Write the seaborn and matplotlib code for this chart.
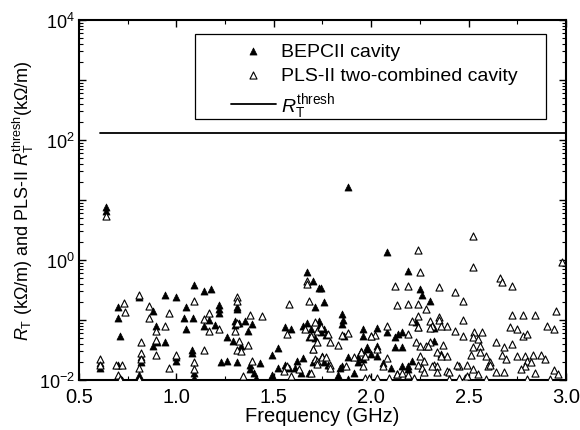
import numpy as np
import pandas as pd
import matplotlib
matplotlib.use("Agg")
import matplotlib.pyplot as plt
import matplotlib.ticker as mticker
from matplotlib.patches import Rectangle
import seaborn as sns

# BEPCII cavity (filled triangles): frequency (GHz), R_T (kOhm/m)
bep_freq = [0.61, 0.61, 0.64, 0.64, 0.70, 0.71, 0.70, 0.70, 0.71, 0.72,
            0.81, 0.88, 0.895, 0.90, 0.88, 0.82, 0.81, 0.82,
            0.94, 1.00, 1.09, 1.14, 1.18, 1.05, 1.04, 1.085, 1.17, 1.20, 1.14, 1.05,
            0.94, 1.00, 1.00, 1.08, 1.08, 1.09, 1.09, 1.23, 1.26,
            1.22, 1.22, 1.22, 1.31, 1.31, 1.30, 1.30, 1.26, 1.29, 1.31,
            1.35, 1.39, 1.32, 1.37, 1.33, 1.38, 1.38, 1.43, 1.40, 1.41, 1.49, 1.49,
            1.52, 1.52, 1.56, 1.58, 1.61, 1.62, 1.65, 1.56, 1.59,
            1.67, 1.70, 1.71, 1.73, 1.65, 1.67, 1.69, 1.68, 1.71, 1.70, 1.70, 1.68, 1.64,
            1.74, 1.76, 1.85, 1.855, 1.85, 1.86, 1.88,
            1.73, 1.73, 1.76, 1.74, 1.77, 1.75, 1.76, 1.78, 1.85, 1.84, 1.83, 1.88, 1.91,
            1.88, 1.93, 1.93, 1.96, 2.06, 2.00, 2.03, 1.98, 1.98, 1.95, 2.03,
            1.96, 2.03, 2.08, 1.96, 2.00, 2.12, 2.10, 2.08,
            2.19, 2.25, 2.26, 2.30, 2.16, 2.14, 2.23, 2.24, 2.32, 2.32, 2.12, 2.16,
            2.21, 2.16, 2.19, 2.19, 2.36]
bep_rt = [0.019, 0.016, 7.7, 6.6, 0.018, 0.011, 0.165, 0.108, 0.054, 0.010,
          0.24, 0.14, 0.079, 0.043, 0.037, 0.020, 0.012, 0.024,
          0.26, 0.24, 0.38, 0.31, 0.33, 0.165, 0.11, 0.11, 0.10, 0.083, 0.079, 0.07,
          0.043, 0.021, 0.024, 0.032, 0.028, 0.013, 0.011, 0.020, 0.021,
          0.18, 0.15, 0.13, 0.165, 0.15, 0.096, 0.083, 0.052, 0.045, 0.020,
          0.096, 0.086, 0.09, 0.066, 0.037, 0.018, 0.015, 0.019, 0.013, 0.011, 0.012, 0.026,
          0.034, 0.016, 0.018, 0.016, 0.016, 0.021, 0.023, 0.076, 0.071,
          0.63, 0.45, 0.165, 0.34, 0.08, 0.09, 0.071, 0.052, 0.05, 0.033, 0.020, 0.013, 0.013,
          0.34, 0.20, 0.126, 0.10, 0.086, 0.055, 16.4,
          0.096, 0.076, 0.071, 0.063, 0.056, 0.025, 0.020, 0.018, 0.017, 0.016, 0.012, 0.0105, 0.013,
          0.024, 0.024, 0.020, 0.022, 0.019, 0.027, 0.025, 0.035, 0.033, 0.030, 0.037,
          0.071, 0.073, 0.063, 0.055, 0.055, 0.052, 0.016, 1.36,
          0.65, 0.33, 0.26, 0.21, 0.063, 0.058, 0.093, 0.076, 0.074, 0.045, 0.035, 0.035,
          0.021, 0.017, 0.017, 0.015, 0.027]

# PLS-II two-combined cavity (open triangles)
pls_freq = [0.61, 0.61, 0.64, 0.69, 0.72, 0.70, 0.73, 0.735,
            0.81, 0.86, 0.86, 0.895, 0.82, 0.895, 0.82, 0.82, 0.81, 0.71, 0.81,
            0.96, 0.94, 1.09, 1.14, 1.17, 1.17, 1.22, 1.00, 1.14, 0.96, 1.09, 1.09, 0.895,
            1.31, 1.31, 1.31, 1.30, 1.31, 1.38, 1.44, 1.37, 1.32, 1.33, 1.39, 1.34,
            1.57, 1.55, 1.63, 1.69, 1.59, 1.57, 1.58,
            1.67, 1.67, 1.68, 1.66, 1.69, 1.71, 1.72, 1.70, 1.71, 1.72,
            1.74, 1.78, 1.72, 1.79, 1.83, 1.85, 1.88, 2.08, 2.02, 2.00,
            1.95, 1.97, 1.96, 1.91, 2.06, 2.08, 2.03, 1.75, 1.77, 1.79, 1.79, 1.87,
            1.97, 1.99, 2.03, 2.09, 2.12, 2.13, 2.13, 1.72,
            2.52, 2.52, 2.24, 2.25, 2.19, 2.35, 2.43, 2.47, 2.19, 2.24, 2.28,
            2.24, 2.21, 2.24, 2.30, 2.31, 2.35, 2.35, 2.39, 2.36, 2.30,
            2.47, 2.43, 2.19, 2.53, 2.52, 2.47,
            2.30, 2.28, 2.29, 2.23, 2.25, 2.37, 2.34, 2.39, 2.36, 2.52, 2.51, 2.49, 2.45,
            2.25, 2.27, 2.24, 2.26, 2.32, 2.34, 2.31, 2.34, 2.39, 2.40, 2.44,
            2.13, 2.16, 2.19, 2.22, 2.27, 2.40, 2.45, 2.48, 2.49, 2.52, 2.55,
            2.98, 2.66, 2.67, 2.72, 2.72, 2.78, 2.84, 2.95, 2.71, 2.75, 2.90, 2.94,
            2.78, 2.80, 2.57, 2.55, 2.64, 2.72,
            2.56, 2.56, 2.68, 2.67, 2.69, 2.59, 2.61, 2.60, 2.61,
            2.75, 2.79, 2.83, 2.87, 2.89, 2.80, 2.82, 2.79,
            2.64, 2.68, 2.77, 2.84, 2.94, 2.96, 2.59, 2.80, 2.92]
pls_rt = [0.022, 0.018, 5.4, 0.018, 0.018, 0.012, 0.19, 0.135,
          0.26, 0.17, 0.108, 0.066, 0.043, 0.026, 0.028, 0.022, 0.016, 0.0105, 0.0105,
          0.13, 0.079, 0.21, 0.104, 0.13, 0.066, 0.07, 0.026, 0.032, 0.016, 0.020, 0.015, 0.046,
          0.24, 0.21, 0.09, 0.065, 0.032, 0.12, 0.117, 0.038, 0.045, 0.030, 0.021, 0.0117,
          0.017, 0.014, 0.015, 0.013, 0.0117, 0.058, 0.185,
          0.45, 0.40, 0.21, 0.071, 0.055, 0.093, 0.066, 0.033, 0.022, 0.021,
          0.076, 0.058, 0.043, 0.043, 0.038, 0.056, 0.061, 0.08, 0.056, 0.055,
          0.029, 0.025, 0.017, 0.024, 0.017, 0.023, 0.033, 0.024, 0.024, 0.018, 0.016, 0.017,
          0.0108, 0.011, 0.011, 0.0108, 0.37, 0.18, 0.0126, 0.0185,
          2.5, 0.76, 1.47, 0.63, 0.37, 0.35, 0.29, 0.21, 0.185, 0.185, 0.15,
          0.117, 0.096, 0.076, 0.096, 0.08, 0.112, 0.10, 0.08, 0.08, 0.074,
          0.10, 0.066, 0.058, 0.063, 0.052, 0.055,
          0.043, 0.037, 0.037, 0.043, 0.037, 0.038, 0.029, 0.025, 0.025, 0.035, 0.026, 0.018, 0.017,
          0.025, 0.021, 0.018, 0.016, 0.018, 0.017, 0.017, 0.0136, 0.014, 0.0136, 0.018,
          0.0126, 0.013, 0.012, 0.011, 0.0136, 0.0104, 0.0108, 0.0108, 0.0117, 0.015, 0.0126,
          0.93, 0.50, 0.43, 0.37, 0.12, 0.12, 0.12, 0.14, 0.076, 0.072, 0.08, 0.07,
          0.054, 0.058, 0.063, 0.048, 0.043, 0.04,
          0.037, 0.029, 0.035, 0.026, 0.022, 0.025, 0.020, 0.017, 0.018,
          0.025, 0.025, 0.026, 0.026, 0.022, 0.021, 0.020, 0.017,
          0.0136, 0.0136, 0.015, 0.013, 0.0147, 0.0126, 0.0104, 0.0104, 0.0104]

# PLS-II threshold impedance
thresh_freq = [0.61, 3.0]
thresh_rt = [130, 130]

bep = pd.DataFrame({"freq": bep_freq, "rt": bep_rt})
pls = pd.DataFrame({"freq": pls_freq, "rt": pls_rt})
thr = pd.DataFrame({"freq": thresh_freq, "rt": thresh_rt})

sns.set_theme(style="ticks")
plt.rcParams['font.family'] = ['Liberation Sans', 'DejaVu Sans']
plt.rcParams['mathtext.fontset'] = 'custom'
plt.rcParams['mathtext.rm'] = 'Liberation Sans'
plt.rcParams['mathtext.it'] = 'Liberation Sans:italic'
plt.rcParams['text.color'] = 'black'
plt.rcParams['axes.labelcolor'] = 'black'
plt.rcParams['xtick.color'] = 'black'
plt.rcParams['ytick.color'] = 'black'

fig = plt.figure(figsize=(5.8, 4.31), dpi=100)
ax = fig.add_axes([0.136, 0.116, 0.840, 0.835])

sns.scatterplot(data=bep, x="freq", y="rt", ax=ax, marker="^", s=26,
                color="black", edgecolor="black", linewidth=0.5,
                label="BEPCII cavity", zorder=3)
sns.scatterplot(data=pls, x="freq", y="rt", ax=ax, marker="^", s=26,
                facecolor="white", edgecolor="black", linewidth=0.8,
                label="PLS-II two-combined cavity", zorder=3)
sns.lineplot(data=thr, x="freq", y="rt", ax=ax, color="black", linewidth=1.3,
             label=r"$R_\mathrm{T}^\mathrm{thresh}$")

ax.set_yscale("log")
ax.set_xlim(0.5, 3.0)
ax.set_ylim(1e-2, 1e4)
ax.xaxis.set_major_locator(mticker.MultipleLocator(0.5))
ax.xaxis.set_minor_locator(mticker.MultipleLocator(0.25))
ax.xaxis.set_major_formatter(mticker.FormatStrFormatter('%.1f'))
ax.yaxis.set_major_locator(mticker.LogLocator(base=10, numticks=10))
ax.yaxis.set_minor_locator(mticker.LogLocator(base=10, subs=np.arange(2, 10), numticks=20))
ax.yaxis.set_minor_formatter(mticker.NullFormatter())
ax.yaxis.set_major_formatter(mticker.FuncFormatter(
    lambda v, p: r"$10^{%d}$" % round(np.log10(v)) if round(np.log10(v)) % 2 == 0 else ""))

ax.tick_params(which="both", direction="in", top=True, right=True, colors="black")
ax.tick_params(axis="x", which="major", labelsize=14.5, pad=5)
ax.tick_params(axis="y", which="major", labelsize=13, pad=3)
ax.tick_params(which="major", length=5, width=1)
ax.tick_params(which="minor", length=3, width=0.8)
for s in ax.spines.values():
    s.set_linewidth(1.5)
    s.set_color("black")

ax.set_xlabel("Frequency (GHz)", fontsize=14.5, labelpad=0)
ax.set_ylabel(r"$R_\mathrm{T}$ (k$\Omega$/m) and PLS-II $R_\mathrm{T}^\mathrm{thresh}$(k$\Omega$/m)",
              fontsize=13, labelpad=2)

# legend box drawn separately so the handles sit inset like the original
ax.add_patch(Rectangle((0.238, 0.725), 0.721, 0.236, transform=ax.transAxes,
                       facecolor="white", edgecolor="black", linewidth=0.9, zorder=4))
leg = ax.legend(loc="upper left", bbox_to_anchor=(0.312, 0.938), fontsize=14,
                frameon=False, borderpad=0, borderaxespad=0,
                handlelength=2.3, handletextpad=0.3, labelspacing=0.35)
leg.set_zorder(5)

plt.savefig("out.png", dpi=100)
